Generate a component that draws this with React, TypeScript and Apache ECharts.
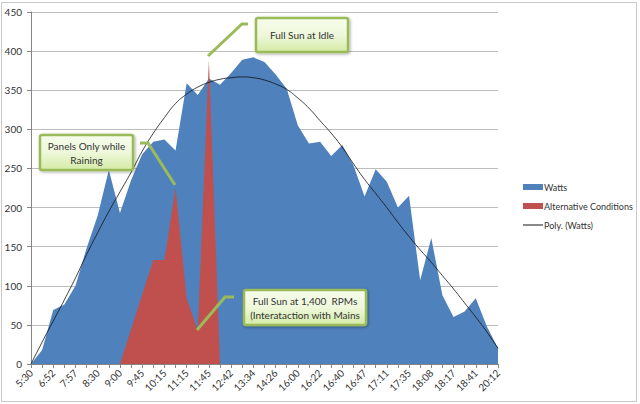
import React, { useEffect, useRef } from "react";
import * as echarts from "echarts";

const categories = [
  "5:30", "6:10", "6:52", "7:25", "7:57", "8:15", "8:30", "8:45", "9:00", "9:20",
  "9:45", "10:00", "10:15", "10:45", "11:15", "11:30", "11:45", "12:15", "12:42", "13:08",
  "13:34", "14:00", "14:26", "15:15", "16:00", "16:11", "16:22", "16:31", "16:40", "16:43",
  "16:47", "16:59", "17:11", "17:23", "17:35", "17:52", "18:08", "18:12", "18:17", "18:29",
  "18:41", "19:30", "20:12",
];

const watts = [
  0, 18, 69, 76, 100, 148, 190, 248, 193, 235,
  268, 284, 287, 273, 359, 344, 365, 357, 372, 389,
  392, 386, 370, 352, 305, 282, 284, 266, 280, 254,
  214, 249, 233, 200, 215, 107, 161, 88, 60, 67,
  84, 48, 20,
];

const alternative = [
  null, null, null, null, null, null, null, null, 0, 44,
  89, 133, 133, 225, 84, 43, 388, 0, null, null,
  null, null, null, null, null, null, null, null, null, null,
  null, null, null, null, null, null, null, null, null, null,
  null, null, null,
];

const polyWatts = [
  0, 28, 55, 82, 110, 140, 168, 195, 220, 245,
  272, 295, 315, 333, 345, 354, 360, 364, 366, 367,
  366, 363, 358, 351, 340, 327, 311, 295, 277, 256,
  236, 218, 200, 181, 163, 146, 130, 113, 96, 78,
  60, 41, 20,
];

const yTicks = { min: 0, max: 450, interval: 50 };

const FONT = "Lato, 'Open Sans', sans-serif";
const GREEN = "#9BBB59";

function boxFill() {
  return new echarts.graphic.LinearGradient(0, 0, 0, 1, [
    { offset: 0, color: "#f7fcec" },
    { offset: 0.5, color: "#eef8db" },
    { offset: 1, color: "#d4eaa6" },
  ]);
}

function callout(x: number, y: number, w: number, h: number, lines: string[]) {
  return [
    {
      type: "rect",
      z: 100,
      shape: { x, y, width: w, height: h, r: 2 },
      style: {
        fill: boxFill(),
        stroke: GREEN,
        lineWidth: 2.5,
        shadowBlur: 3,
        shadowOffsetX: 1,
        shadowOffsetY: 1,
        shadowColor: "rgba(0,0,0,0.35)",
      },
    },
    {
      type: "text",
      z: 101,
      x: x + w / 2,
      y: y + h / 2,
      style: {
        text: lines.join("\n"),
        fill: "#333",
        font: `normal 400 10px ${FONT}`,
        align: "center",
        verticalAlign: "middle",
        lineHeight: 14,
      },
    },
  ];
}

function leader(points: number[][]) {
  return {
    type: "polyline",
    z: 100,
    shape: { points },
    style: { stroke: GREEN, lineWidth: 3, fill: "none" },
  };
}

export default function App() {
  const ref = useRef<HTMLDivElement>(null);

  useEffect(() => {
    if (!ref.current) return;
    const chart = echarts.init(ref.current, undefined, { renderer: "svg" });
    chart.setOption({
      animation: false,
      backgroundColor: "#ffffff",
      textStyle: { fontFamily: FONT },
      grid: { left: 31, top: 12, width: 467, height: 352, containLabel: false },
      legend: {
        orient: "vertical",
        left: 518,
        top: 176,
        itemWidth: 20,
        itemHeight: 6,
        itemGap: 7,
        textStyle: { fontSize: 9, color: "#333", fontFamily: FONT, padding: [0, 0, 0, -4], lineHeight: 12 },
        data: [
          { name: "Watts", icon: "rect" },
          { name: "Alternative Conditions", icon: "rect" },
          { name: "Poly. (Watts)", icon: "path://M0 0H20V1H0Z" },
        ],
      },
      xAxis: {
        type: "category",
        data: categories,
        boundaryGap: false,
        axisLine: { lineStyle: { color: "#868686", width: 1 } },
        axisTick: { show: true, interval: 0, length: 4, lineStyle: { color: "#868686" } },
        axisLabel: { interval: 1, rotate: 45, fontSize: 10, color: "#333", margin: 7, fontFamily: FONT },
        splitLine: { show: false },
      },
      yAxis: {
        type: "value",
        min: yTicks.min,
        max: yTicks.max,
        interval: yTicks.interval,
        axisLine: { show: true, lineStyle: { color: "#868686", width: 1 } },
        axisTick: { show: true, length: 4, lineStyle: { color: "#868686" } },
        axisLabel: { fontSize: 10, color: "#333", margin: 9, fontFamily: FONT },
        splitLine: { lineStyle: { color: "#bdbdbd", width: 1 } },
      },
      series: [
        {
          name: "Watts",
          type: "line",
          data: watts,
          symbol: "none",
          color: "#4F81BD",
          lineStyle: { width: 0, color: "#4F81BD" },
          areaStyle: { color: "#4F81BD", opacity: 1 },
          itemStyle: { color: "#4F81BD" },
          z: 2,
        },
        {
          name: "Alternative Conditions",
          type: "line",
          data: alternative,
          symbol: "none",
          color: "#C0504D",
          lineStyle: { width: 0, color: "#C0504D" },
          areaStyle: { color: "#C0504D", opacity: 1 },
          itemStyle: { color: "#C0504D" },
          z: 3,
        },
        {
          name: "Poly. (Watts)",
          type: "line",
          data: polyWatts,
          symbol: "none",
          smooth: true,
          color: "#111",
          lineStyle: { width: 0.8, color: "#111" },
          itemStyle: { color: "#111" },
          z: 4,
        },
      ],
      graphic: [
        {
          type: "rect",
          z: 0,
          silent: true,
          shape: { x: 1.5, y: 2.5, width: 635, height: 399 },
          style: { fill: "none", stroke: "#c8c8c8", lineWidth: 1 },
        },
        leader([[248, 24], [242, 24], [208, 56]]),
        ...callout(256, 18, 92, 34, ["Full Sun at Idle"]),
        leader([[140, 143], [148, 143], [175, 185]]),
        ...callout(40, 135, 93, 35, ["Panels Only while", "Raining"]),
        leader([[234, 297], [225, 297], [197, 330]]),
        ...callout(244, 290, 122, 35, ["Full Sun at 1,400  RPMs", "(Interataction with Mains"]),
      ],
    });
    return () => chart.dispose();
  }, []);

  return (
    <div
      ref={ref}
      style={{ position: "absolute", left: 0, top: 0, width: 640, height: 404 }}
    />
  );
}
